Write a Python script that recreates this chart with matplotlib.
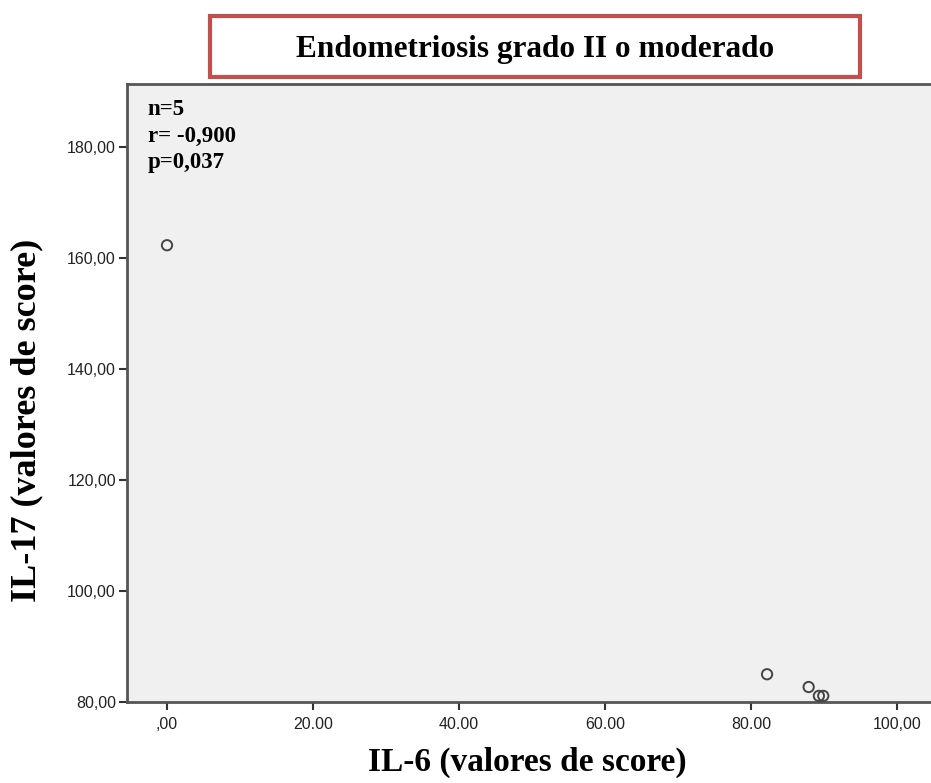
import matplotlib.pyplot as plt
from matplotlib.patches import Rectangle

# datos
il6 = [0.0, 82.2, 87.9, 89.3, 89.9]
il17 = [162.3, 85.0, 82.7, 81.1, 81.1]

xticks = [0, 20, 40, 60, 80, 100]
xlabels = [",00", "20.00", "40.00", "60.00", "80.00", "100,00"]
yticks = [80, 100, 120, 140, 160, 180]
ylabels = ["80,00", "100,00", "120,00", "140,00", "160,00", "180,00"]

titulo = "Endometriosis grado II o moderado"
stats = "n=5\nr= -0,900\np=0,037"

W, H = 931, 783
fig = plt.figure(figsize=(W / 100, H / 100), dpi=100)

# ejes: izquierda 127, arriba 84, abajo 702, derecha fuera de la imagen
ax = fig.add_axes([127 / W, 1 - 702 / H, (931 - 127) / W, (702 - 84) / H])
ax.set_facecolor("#F0F0F0")
ax.scatter(il6, il17, s=55, facecolors="none", edgecolors="#444444", linewidths=1.4, zorder=3)

ax.set_xlim(-5.48, 104.66)
ax.set_ylim(80, 191.35)
ax.set_xticks(xticks)
ax.set_xticklabels(xlabels)
ax.set_yticks(yticks)
ax.set_yticklabels(ylabels)
ax.tick_params(length=6, width=1.5, color="#333333", labelsize=11.5,
               labelcolor="#222222", pad=2)
for lbl in ax.get_xticklabels() + ax.get_yticklabels():
    lbl.set_family("Liberation Sans")
ax.tick_params(axis="x", pad=5)

for s in ["left", "bottom", "top"]:
    ax.spines[s].set_color("#555555")
    ax.spines[s].set_linewidth(2)
ax.spines["right"].set_visible(False)

ax.text(0.026, 0.975, stats, transform=ax.transAxes, va="top", ha="left",
        family="Liberation Serif", fontweight="bold", fontsize=16.5,
        linespacing=1.32)

fig.text(527 / W, 1 - 762 / H, "IL-6 (valores de score)", ha="center", va="center",
         family="Liberation Serif", fontweight="bold", fontsize=24)
fig.text(27 / W, 1 - 420 / H, "IL-17 (valores de score)", ha="center", va="center",
         rotation=90, family="Liberation Serif", fontweight="bold", fontsize=26)

# caja del titulo
box = Rectangle((210 / W, 1 - 77 / H), (860 - 210) / W, (77 - 16) / H,
                transform=fig.transFigure, facecolor="white",
                edgecolor="#C0504D", linewidth=3, zorder=5)
fig.patches.append(box)
fig.text(535 / W, 1 - 49 / H, titulo, ha="center", va="center",
         family="Liberation Serif", fontweight="bold", fontsize=22.5, zorder=6)

fig.savefig("out.png", dpi=100)
